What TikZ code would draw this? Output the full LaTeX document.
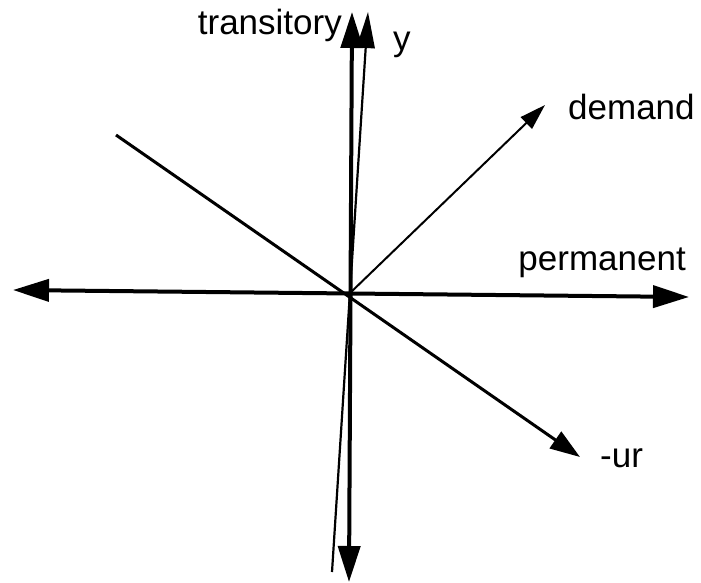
\documentclass[tikz,border=0pt]{standalone}
\usepackage{fontspec}
\setmainfont{Liberation Sans}
\usetikzlibrary{arrows.meta, positioning}

\begin{document}
\begin{tikzpicture}[
    x=1pt, y=-1pt,
    >={Triangle[length=36pt, width=22pt]},
    every node/.style={font=\fontsize{35}{40}\selectfont, inner sep=0pt},
    axis/.style ={line width=4pt},
    thinax/.style={line width=2.2pt},
    shock/.style={line width=3pt, -{Triangle[length=30pt, width=20pt]}},
    dem/.style  ={line width=2pt, -{Triangle[length=26pt, width=16pt]}},
]
\useasboundingbox (0,0) rectangle (701,583);
% points
\coordinate (O)    at (349,294);
\coordinate (W)    at (13,290);
\coordinate (E)    at (689,297);
\coordinate (S)    at (349,582);
\coordinate (T)    at (352,12);
\coordinate (Ybot) at (332,572);
\coordinate (Ytop) at (368,12);
\coordinate (U0)   at (116,135);
\coordinate (U1)   at (580,457);
\coordinate (D)    at (545,105);
% labels
\node[anchor=base east] (trans) at (342,35)  {transitory};
\node[anchor=base west] (ylab)  at (393,51)  {y};
\node[anchor=base west] (dlab)  at (568,120) {demand};
\node[anchor=base east] (plab)  at (686,270) {permanent};
\node[anchor=base west] (ulab)  at (600,467) {-ur};
% axes
\draw[axis, <->] (W) -- (E);
\draw[axis, <->] (S) -- (T);
\draw[thinax, ->, >={Triangle[length=36pt, width=18pt]}] (Ybot) -- (Ytop);
\draw[shock] (U0) -- (U1);
\draw[dem] (O) -- (D);
\end{tikzpicture}
\end{document}
